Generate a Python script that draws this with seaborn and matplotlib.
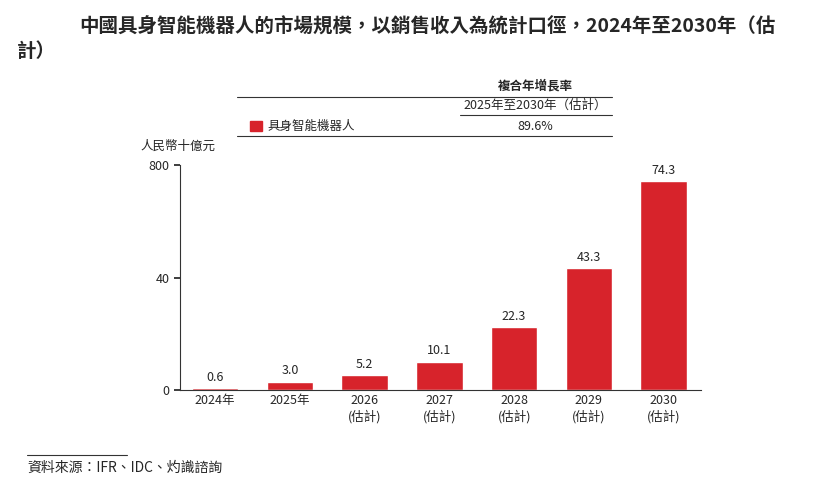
import matplotlib
matplotlib.use("Agg")
import matplotlib.pyplot as plt
import seaborn as sns
import pandas as pd
from matplotlib.lines import Line2D
from matplotlib.patches import Rectangle

years = ["2024年", "2025年", "2026\n(估計)", "2027\n(估計)", "2028\n(估計)", "2029\n(估計)", "2030\n(估計)"]
values = [0.6, 3.0, 5.2, 10.1, 22.3, 43.3, 74.3]
labels = ["0.6", "3.0", "5.2", "10.1", "22.3", "43.3", "74.3"]
yticks = [0, 40, 80]
ytick_labels = ["0", "40", "800"]

sns.set_theme(style="white")
plt.rcParams['font.family'] = ['Noto Sans CJK TC', 'DejaVu Sans']

red = "#d7232b"
fig = plt.figure(figsize=(8.30, 4.87), dpi=100)
ax = fig.add_axes([180 / 830, 0.199, 521 / 830, 0.462])
df = pd.DataFrame({"year": years, "value": values})
sns.barplot(data=df, x="year", y="value", color=red, saturation=1, width=0.62, ax=ax)
for i, (v, t) in enumerate(zip(values, labels)):
    ax.text(i, v + 1.5, t, ha="center", va="bottom", fontsize=9)
ax.set_ylim(0, 80)
ax.set_xlim(-0.47, 6.5)
ax.set_yticks(yticks)
ax.set_yticklabels(ytick_labels, fontsize=9)
ax.tick_params(axis="x", labelsize=9, length=0, pad=3)
ax.tick_params(axis="y", length=4, left=True, direction="out")
ax.set_xlabel("")
ax.set_ylabel("")
for s in ["top", "right"]:
    ax.spines[s].set_visible(False)
for s in ["left", "bottom"]:
    ax.spines[s].set_color("#333333")
    ax.spines[s].set_linewidth(0.8)

fig.text(0.095, 0.945, "中國具身智能機器人的市場規模，以銷售收入為統計口徑，2024年至2030年（估",
         ha="left", va="center", fontsize=14, fontweight="bold")
fig.text(0.02, 0.895, "計）", ha="left", va="center", fontsize=14, fontweight="bold")
fig.text(0.215, 0.7, "人民幣十億元", ha="center", va="center", fontsize=9, style="italic")

# legend table
def hline(x0, x1, y, lw=0.8):
    fig.add_artist(Line2D([x0 / 830, x1 / 830], [1 - y / 487] * 2, color="#333333", lw=lw))
hline(237, 612, 97)
hline(460, 612, 115)
hline(237, 612, 136)
fig.text(535 / 830, 1 - 86 / 487, "複合年增長率", ha="center", va="center", fontsize=9, fontweight="bold")
fig.text(535 / 830, 1 - 105 / 487, "2025年至2030年（估計）", ha="center", va="center", fontsize=9)
fig.add_artist(Rectangle((250 / 830, 1 - 131 / 487), 12 / 830, 10 / 487, color=red))
fig.text(268 / 830, 1 - 126 / 487, "具身智能機器人", ha="left", va="center", fontsize=9)
fig.text(535 / 830, 1 - 126 / 487, "89.6%", ha="center", va="center", fontsize=9)

hline(27, 127, 455)
fig.text(27 / 830, 1 - 468 / 487, "資料來源：IFR、IDC、灼識諮詢", ha="left", va="center",
         fontsize=10, style="italic")

fig.savefig("out.png", dpi=100)
